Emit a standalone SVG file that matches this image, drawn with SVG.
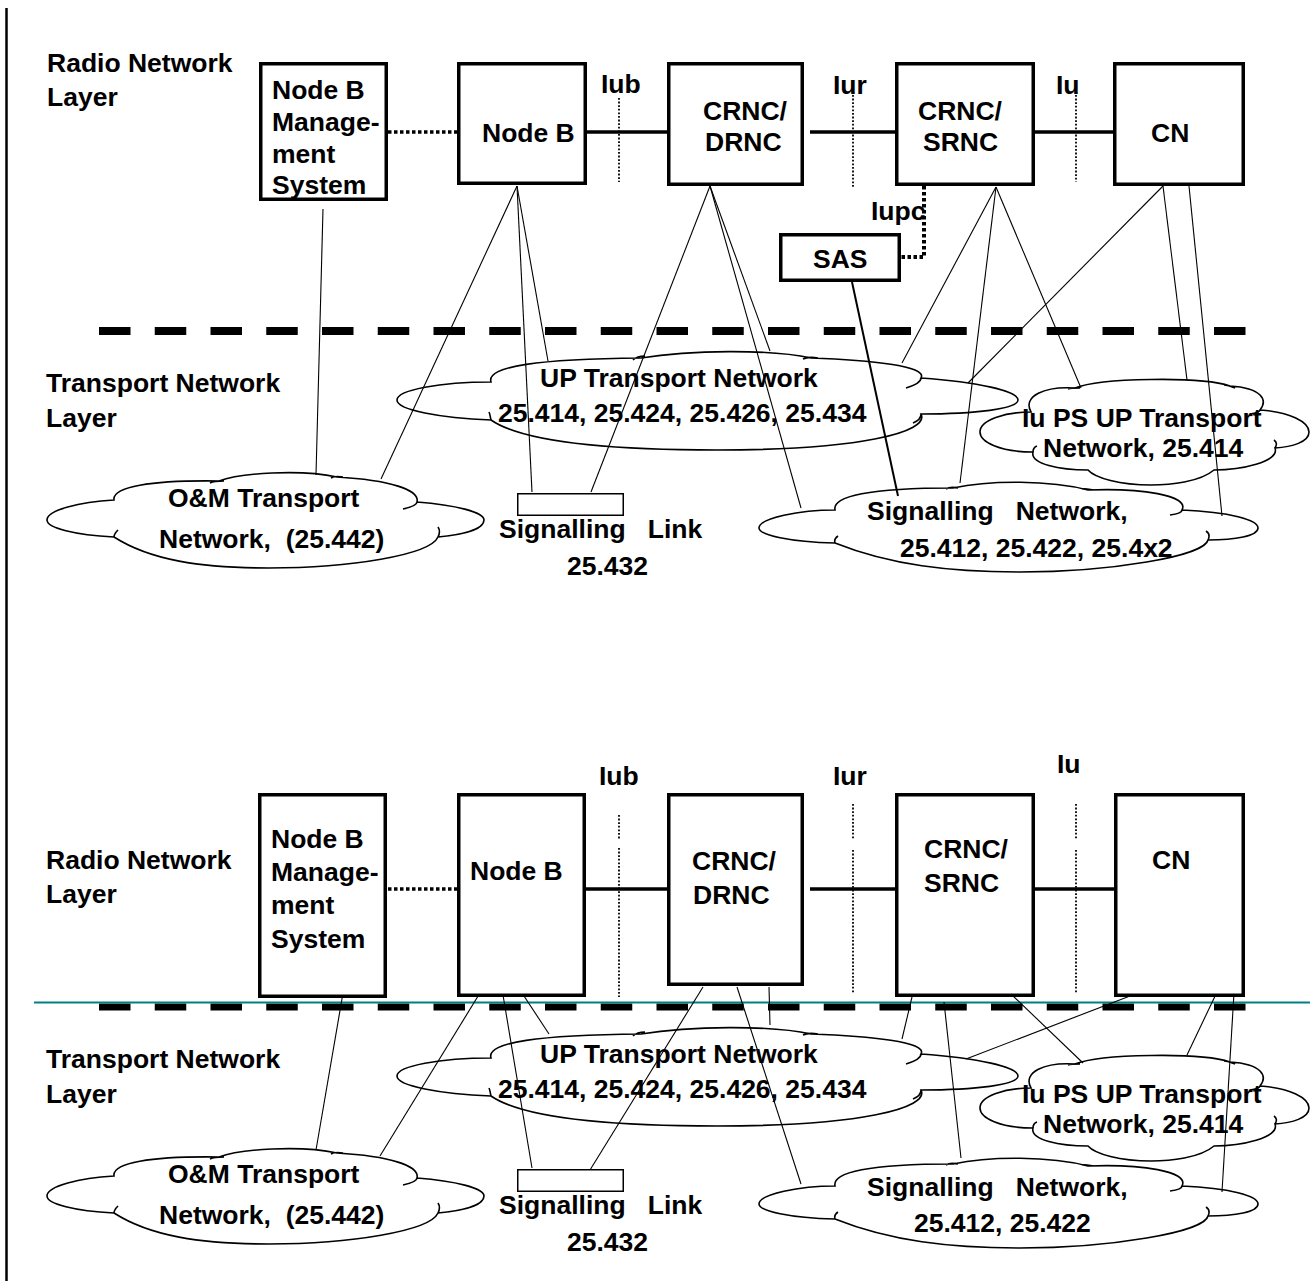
<svg xmlns="http://www.w3.org/2000/svg" width="1310" height="1281" viewBox="0 0 1310 1281">
<style>
  text { font-family: "Liberation Sans", Arial, sans-serif; font-weight: bold; font-size: 26.5px; fill: #000; }
  .pre { white-space: pre; }
  .box { fill: #fff; stroke: #000; stroke-width: 3.5; }
  .thin { stroke: #000; stroke-width: 1.1; fill: none; }
  .cloud { fill: none; stroke: #000; stroke-width: 1.6; }
  .solid { stroke: #000; stroke-width: 3.5; fill: none; }
  .dotthick { stroke: #000; stroke-width: 3.5; stroke-dasharray: 3.5 2.5; fill: none; }
  .dotthin { stroke: #000; stroke-width: 1.8; stroke-dasharray: 1.8 1.8; fill: none; }
  .sep { stroke: #000; stroke-width: 8; stroke-dasharray: 31.5 24.25; fill: none; }
</style>
<defs>
  <path id="cloud-up" d="M491,382 C486,366 540,359 641,358 C690,350 770,349 811,358 C870,360 928,366 921,378 C978,382 1018,391 1018,400 C1018,409 975,414 921,414 C930,432 860,450 717,450 C600,450 520,440 491,420 C440,418 397,410 397,400 C397,390 440,382 491,382 Z M906,388 C916,385 921,382 921,378 M921,414 C921,418 918,421 913,423 M491,420 C490,416 490,414 489,412 M633,360 C636,357 640,356 645,356 M803,359 C807,357 812,357 818,358"/>
  <path id="cloud-om" d="M114,500 C112,487 150,480 219,481 C240,473 300,469 337,477 C390,480 420,490 417,502 C455,505 484,512 484,520 C484,530 460,535 438,537 C430,555 350,568 269,568 C200,568 150,560 114,537 C75,535 47,528 47,520 C47,510 80,502 114,500 Z M403,509 C412,507 417,505 417,502 M438,537 C440,533 440,530 438,527 M114,537 C114,534 116,532 118,530 M210,483 C214,481 218,481 224,481 M331,478 C334,476 337,476 343,477"/>
  <path id="cloud-sig" d="M835,510 C832,496 870,488 953,488 C990,480 1050,480 1088,490 C1140,488 1190,495 1182,510 C1230,512 1258,520 1258,528 C1258,536 1235,540 1208,540 C1205,556 1110,572 1020,572 C950,572 890,565 835,543 C790,542 759,535 759,528 C759,518 800,510 835,510 Z M1170,515 C1178,514 1182,512 1182,510 M1208,540 C1210,536 1209,533 1206,531 M835,543 C834,540 835,538 838,536 M946,489 C949,487 953,487 958,488 M1082,489 C1085,488 1088,489 1093,490"/>
  <path id="cloud-iups" d="M1031,412 C1022,396 1045,386 1075,388 C1100,378 1200,376 1230,386 C1262,388 1268,400 1260,410 C1290,412 1309,422 1309,432 C1309,442 1292,447 1275,448 C1280,462 1240,470 1214,470 C1200,482 1170,485 1151,485 C1120,485 1095,478 1088,470 C1060,470 1030,464 1033,452 C1000,452 980,442 980,432 C980,420 1005,412 1031,412 Z M1250,414 C1256,413 1260,412 1260,410 M1275,448 C1277,445 1277,442 1274,440 M1033,452 C1033,449 1034,447 1037,446 M1068,389 C1071,388 1075,388 1080,388 M1224,385 C1227,385 1230,386 1235,388"/>
</defs>

<rect width="1310" height="1281" fill="#fff"/>

<g id="frame">
  <line x1="6.5" y1="8" x2="6.5" y2="1281" stroke="#000" stroke-width="2.5"/>
  <line class="sep" x1="99" y1="331" x2="1247" y2="331"/>
  <line class="sep" x1="99" y1="1007" x2="1247" y2="1007" style="stroke-width:7"/>
  <line x1="34" y1="1002.5" x2="1310" y2="1002.5" stroke="#008080" stroke-width="2"/>
</g>

<g id="layer-labels">
  <text x="47" y="72">Radio Network</text>
  <text x="47" y="106">Layer</text>
  <text x="46" y="392">Transport Network</text>
  <text x="46" y="427">Layer</text>
  <text x="46" y="869">Radio Network</text>
  <text x="46" y="903">Layer</text>
  <text x="46" y="1068">Transport Network</text>
  <text x="46" y="1103">Layer</text>
</g>

<g id="connectors">
  <!-- top diagram -->
  <line class="dotthick" x1="388" y1="132" x2="457" y2="132"/>
  <line class="solid" x1="587" y1="132" x2="667" y2="132"/>
  <line class="solid" x1="810" y1="132" x2="895" y2="132"/>
  <line class="solid" x1="1035" y1="132" x2="1115" y2="132"/>
  <line class="dotthin" x1="619" y1="98" x2="619" y2="182"/>
  <line class="dotthin" x1="853" y1="95" x2="853" y2="188"/>
  <line class="dotthin" x1="1076" y1="95" x2="1076" y2="182"/>
  <polyline class="dotthick" points="924,186 924,257 901,257" style="stroke-width:4"/>
  <line class="thin" x1="323" y1="209" x2="316" y2="475"/>
  <line class="thin" x1="517" y1="186" x2="381" y2="479"/>
  <line class="thin" x1="517" y1="186" x2="532" y2="492"/>
  <line class="thin" x1="517" y1="186" x2="548" y2="361"/>
  <line class="thin" x1="710" y1="186" x2="591" y2="492"/>
  <line class="thin" x1="710" y1="186" x2="770" y2="351"/>
  <line class="thin" x1="710" y1="186" x2="801" y2="508"/>
  <line class="thin" x1="996" y1="187" x2="902" y2="363"/>
  <line class="thin" x1="996" y1="187" x2="960" y2="483"/>
  <line class="thin" x1="996" y1="187" x2="1081" y2="388"/>
  <line class="thin" x1="1163" y1="186" x2="968" y2="383"/>
  <line class="thin" x1="1163" y1="186" x2="1187" y2="380"/>
  <line class="thin" x1="1189" y1="186" x2="1222" y2="516"/>
  <line class="thin" x1="852" y1="282" x2="898" y2="496" style="stroke-width:2"/>
  <!-- bottom diagram -->
  <line class="dotthick" x1="388" y1="889" x2="457" y2="889"/>
  <line class="solid" x1="586" y1="889" x2="667" y2="889"/>
  <line class="solid" x1="810" y1="889" x2="895" y2="889"/>
  <line class="solid" x1="1035" y1="889" x2="1115" y2="889"/>
  <line class="dotthin" x1="619" y1="815" x2="619" y2="840"/>
  <line class="dotthin" x1="619" y1="848" x2="619" y2="997"/>
  <line class="dotthin" x1="853" y1="804" x2="853" y2="840"/>
  <line class="dotthin" x1="853" y1="850" x2="853" y2="993"/>
  <line class="dotthin" x1="1076" y1="804" x2="1076" y2="840"/>
  <line class="dotthin" x1="1076" y1="850" x2="1076" y2="993"/>
  <line class="thin" x1="343" y1="993" x2="316" y2="1150"/>
  <line class="thin" x1="483" y1="988" x2="380" y2="1156"/>
  <line class="thin" x1="503" y1="995" x2="532" y2="1168"/>
  <line class="thin" x1="524" y1="996" x2="549" y2="1034"/>
  <line class="thin" x1="703" y1="987" x2="590" y2="1170"/>
  <line class="thin" x1="737" y1="987" x2="801" y2="1184"/>
  <line class="thin" x1="769" y1="987" x2="770" y2="1025"/>
  <line class="thin" x1="912" y1="997" x2="902" y2="1039"/>
  <line class="thin" x1="944" y1="1002" x2="961" y2="1158"/>
  <line class="thin" x1="1010" y1="993" x2="1083" y2="1063"/>
  <line class="thin" x1="1130" y1="996" x2="966" y2="1059"/>
  <line class="thin" x1="1217" y1="992" x2="1187" y2="1055"/>
  <line class="thin" x1="1234" y1="993" x2="1222" y2="1192"/>
</g>

<!-- interface labels -->
<g id="interface-labels">
  <text x="601" y="93">Iub</text>
  <text x="833" y="94">Iur</text>
  <text x="1056" y="94">Iu</text>
  <text x="871" y="220">Iupc</text>
  <text x="599" y="785">Iub</text>
  <text x="833" y="785">Iur</text>
  <text x="1057" y="773">Iu</text>
</g>

<!-- top diagram nodes -->
<g id="top-nodeb-mgmt">
  <rect class="box" x="260.75" y="63.75" width="125.5" height="135.5"/>
  <text x="272" y="99">Node B</text>
  <text x="272" y="131">Manage-</text>
  <text x="272" y="163">ment</text>
  <text x="272" y="194">System</text>
</g>
<g id="top-nodeb">
  <rect class="box" x="458.75" y="63.75" width="126.5" height="119.5"/>
  <text x="482" y="142">Node B</text>
</g>
<g id="top-drnc">
  <rect class="box" x="668.75" y="63.75" width="133.5" height="120.5"/>
  <text x="703" y="120">CRNC/</text>
  <text x="705" y="151">DRNC</text>
</g>
<g id="top-srnc">
  <rect class="box" x="896.75" y="63.75" width="136.5" height="120.5"/>
  <text x="918" y="120">CRNC/</text>
  <text x="923" y="151">SRNC</text>
</g>
<g id="top-cn">
  <rect class="box" x="1114.75" y="63.75" width="128.5" height="120.5"/>
  <text x="1151" y="142">CN</text>
</g>
<g id="top-sas">
  <rect class="box" x="780.75" y="234.75" width="118.5" height="45.5"/>
  <text x="813" y="268">SAS</text>
</g>
<g id="top-up-transport">
  <use href="#cloud-up" class="cloud"/>
  <text x="540" y="387">UP Transport Network</text>
  <text x="498" y="422">25.414, 25.424, 25.426, 25.434</text>
</g>
<g id="top-om-transport">
  <use href="#cloud-om" class="cloud"/>
  <text x="168" y="507">O&amp;M Transport</text>
  <text x="159" y="548" class="pre" xml:space="preserve">Network,  (25.442)</text>
</g>
<g id="top-signalling-link">
  <rect x="517.75" y="493.75" width="105.5" height="21.5" fill="#fff" stroke="#000" stroke-width="1.5"/>
  <text x="499" y="538" class="pre" xml:space="preserve">Signalling   Link</text>
  <text x="567" y="575">25.432</text>
</g>
<g id="top-signalling-network">
  <use href="#cloud-sig" class="cloud"/>
  <text x="867" y="520" class="pre" xml:space="preserve">Signalling   Network,</text>
  <text x="900" y="557">25.412, 25.422, 25.4x2</text>
</g>
<g id="top-iups-transport">
  <use href="#cloud-iups" class="cloud"/>
  <text x="1022" y="427">Iu PS UP Transport</text>
  <text x="1043" y="457">Network, 25.414</text>
</g>

<!-- bottom diagram nodes -->
<g id="bottom-nodeb-mgmt">
  <rect class="box" x="259.75" y="794.75" width="125.5" height="201.5"/>
  <text x="271" y="848">Node B</text>
  <text x="271" y="881">Manage-</text>
  <text x="271" y="914">ment</text>
  <text x="271" y="948">System</text>
</g>
<g id="bottom-nodeb">
  <rect class="box" x="458.75" y="794.75" width="125.5" height="200.5"/>
  <text x="470" y="880">Node B</text>
</g>
<g id="bottom-drnc">
  <rect class="box" x="668.75" y="794.75" width="133.5" height="189.5"/>
  <text x="692" y="870">CRNC/</text>
  <text x="693" y="904">DRNC</text>
</g>
<g id="bottom-srnc">
  <rect class="box" x="896.75" y="794.75" width="136.5" height="200.5"/>
  <text x="924" y="858">CRNC/</text>
  <text x="924" y="892">SRNC</text>
</g>
<g id="bottom-cn">
  <rect class="box" x="1115.75" y="794.75" width="127.5" height="200.5"/>
  <text x="1152" y="869">CN</text>
</g>
<g id="bottom-up-transport">
  <use href="#cloud-up" class="cloud" transform="translate(0,676)"/>
  <text x="540" y="1063">UP Transport Network</text>
  <text x="498" y="1098">25.414, 25.424, 25.426, 25.434</text>
</g>
<g id="bottom-om-transport">
  <use href="#cloud-om" class="cloud" transform="translate(0,676)"/>
  <text x="168" y="1183">O&amp;M Transport</text>
  <text x="159" y="1224" class="pre" xml:space="preserve">Network,  (25.442)</text>
</g>
<g id="bottom-signalling-link">
  <rect x="517.75" y="1169.75" width="105.5" height="21.5" fill="#fff" stroke="#000" stroke-width="1.5"/>
  <text x="499" y="1214" class="pre" xml:space="preserve">Signalling   Link</text>
  <text x="567" y="1251">25.432</text>
</g>
<g id="bottom-signalling-network">
  <use href="#cloud-sig" class="cloud" transform="translate(0,676)"/>
  <text x="867" y="1196" class="pre" xml:space="preserve">Signalling   Network,</text>
  <text x="914" y="1232">25.412, 25.422</text>
</g>
<g id="bottom-iups-transport">
  <use href="#cloud-iups" class="cloud" transform="translate(0,676)"/>
  <text x="1022" y="1103">Iu PS UP Transport</text>
  <text x="1043" y="1133">Network, 25.414</text>
</g>
</svg>
